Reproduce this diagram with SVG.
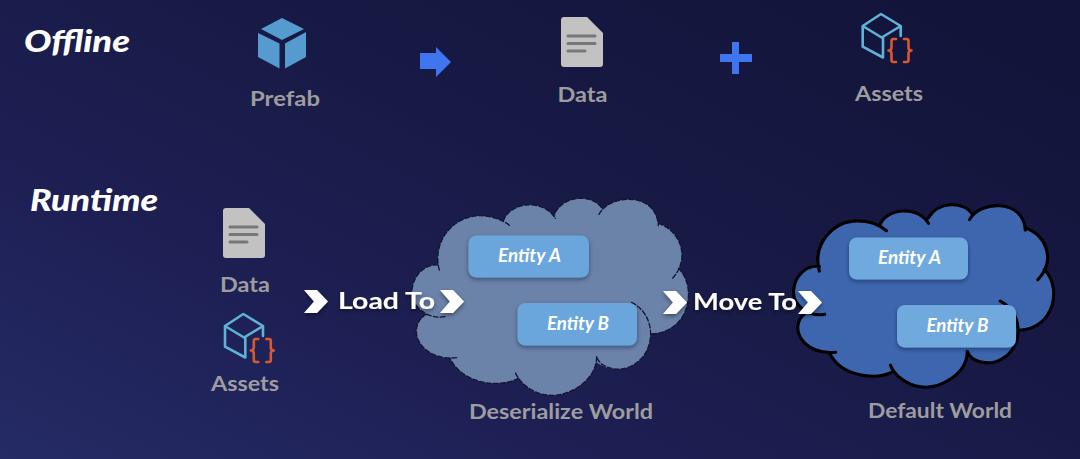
<svg xmlns="http://www.w3.org/2000/svg" width="1080" height="459" viewBox="0 0 1080 459">
<style>
text{font-family:"Lato","Open Sans","Liberation Sans",sans-serif;font-weight:700}
.h{fill:#fff;font-size:30px;font-style:italic;font-weight:900}
.l{fill:#9d9d9f;font-size:21px;text-anchor:middle}
.a{fill:#fff;font-size:22.5px;filter:url(#ts)}
.e{fill:#fff;font-size:18px;font-style:italic;text-anchor:middle}
.box{fill:#6aa6dc;filter:url(#bs)}
.chev{fill:#fff;filter:url(#ts)}
.ln{fill:none;stroke-linecap:round;stroke-linejoin:round}
</style>
<defs>
<linearGradient id="bg" x1="0" y1="1" x2="1" y2="0.15">
<stop offset="0" stop-color="#252b66"/><stop offset="0.3" stop-color="#1e2055"/><stop offset="0.6" stop-color="#181a46"/><stop offset="1" stop-color="#13143a"/>
</linearGradient>
<filter id="ts" x="-20%" y="-30%" width="140%" height="170%"><feDropShadow dx="0" dy="2" stdDeviation="2" flood-color="#000" flood-opacity=".45"/></filter>
<filter id="bs" x="-10%" y="-20%" width="120%" height="150%"><feDropShadow dx="0" dy="2" stdDeviation="2" flood-color="#0b1738" flood-opacity=".45"/></filter>
<path id="cf" d="M118,255C95,170 160,92 240,92C275,92 310,105 332,124L450,330Z M310,108C330,50 430,40 466,100L450,330Z M466,82C495,30 580,25 607,72L450,330Z M597,88C630,25 770,20 775,122L450,330Z M775,115C840,135 875,220 815,283L450,330Z M835,250C890,300 875,440 755,447L450,330Z M695,352C770,390 770,500 700,540C660,565 600,550 578,520L450,330Z M590,515C590,590 500,640 440,630C395,625 355,590 345,560L450,330Z M355,580C300,610 190,600 150,520L450,330Z M170,518C70,530 15,440 72,392L450,330Z M135,395C85,405 30,365 36,315C40,270 75,235 118,240L450,330Z"/>
<path id="cl" d="M118,255C95,170 160,92 240,92C275,92 310,105 332,124 M310,108C330,50 430,40 466,100 M466,82C495,30 580,25 607,72 M597,88C630,25 770,20 775,122 M775,115C840,135 875,220 815,283 M835,250C890,300 875,440 755,447 M695,352C770,390 770,500 700,540C660,565 600,550 590,515 M590,515C590,590 500,640 440,630C395,625 355,590 345,560 M355,580C300,610 190,600 150,520 M170,518C70,530 15,440 72,392 M135,395C85,405 30,365 36,315C40,270 75,235 118,240" fill="none" stroke-linecap="round"/>
<g id="doc">
<path d="M564,17H587L603,33V64Q603,67 600,67H564Q561,67 561,64V20Q561,17 564,17Z" fill="#c2c2c2"/>
<path d="M568,36H595M568,43.5H595M568,51H585" stroke="#777" stroke-width="3" stroke-linecap="round" fill="none"/>
</g>
<g id="asset">
<path class="ln" d="M881,14L900.7,26L881.7,37.5L862.7,26ZM862.7,26V46.7L883,57.5V37.5M900.7,26V36" stroke="#5fb2d6" stroke-width="2.6"/>
<path class="ln" d="M896,39H893.5Q891.5,39 891.5,41V47.5Q891.5,50.5 888.5,50.5Q891.5,50.5 891.5,53.5V60Q891.5,62 893.5,62H896M904,39H906.5Q908.5,39 908.5,41V47.5Q908.5,50.5 911.5,50.5Q908.5,50.5 908.5,53.5V60Q908.5,62 906.5,62H904" stroke="#d8592f" stroke-width="2.6"/>
</g>
<path id="chev" d="M0,0H13L24,11.5L13,23H0L10,11.5Z"/>
</defs>
<rect width="1080" height="459" fill="url(#bg)"/>

<text class="h" x="24" y="52" textLength="106" lengthAdjust="spacingAndGlyphs">Offline</text>
<text class="h" x="30" y="211" textLength="128" lengthAdjust="spacingAndGlyphs">Runtime</text>

<g id="prefab">
<path d="M282,18L304,29L282,40L261,29Z M258,33L279.5,43.5V68.5L258,57Z M285,43.5L306,32V57L285,68.5Z" fill="#559bd0"/>
<text class="l" x="285" y="106" textLength="70" lengthAdjust="spacingAndGlyphs">Prefab</text>
</g>
<g id="offline-data">
<use href="#doc"/>
<text class="l" x="582.5" y="102" textLength="50" lengthAdjust="spacingAndGlyphs">Data</text>
</g>
<g id="offline-assets">
<use href="#asset"/>
<text class="l" x="889" y="101" textLength="68" lengthAdjust="spacingAndGlyphs">Assets</text>
</g>
<g id="runtime-data">
<use href="#doc" x="-338" y="191"/>
<text class="l" x="245" y="292" textLength="50" lengthAdjust="spacingAndGlyphs">Data</text>
</g>
<g id="runtime-assets">
<use href="#asset" x="-637.7" y="300"/>
<text class="l" x="245" y="391" textLength="68" lengthAdjust="spacingAndGlyphs">Assets</text>
</g>

<g id="deserialize-world">
<g transform="translate(400,185) scale(.3333)">
<use href="#cf" fill="#6b82a9"/>
<use href="#cl" stroke="#14152f" stroke-width="4" stroke-dasharray="14 7"/>
</g>
<rect class="box" x="468.5" y="235.5" width="120.5" height="42" rx="8"/>
<text class="e" x="529.5" y="262" textLength="63" lengthAdjust="spacingAndGlyphs">Entity A</text>
<rect class="box" x="517.5" y="303" width="119.5" height="42.5" rx="8"/>
<text class="e" x="578" y="329.5" textLength="62" lengthAdjust="spacingAndGlyphs">Entity B</text>
<text class="l" x="561" y="419" textLength="184" lengthAdjust="spacingAndGlyphs">Deserialize World</text>
</g>
<g id="default-world">
<g transform="translate(782.4,192.5) scale(.3134,.3083)">
<use href="#cf" fill="#3d66ae"/>
<use href="#cl" stroke="#000" stroke-width="10"/>
</g>
<rect class="box" x="849" y="237.5" width="119" height="42" rx="8" style="fill:#6fa9de"/>
<text class="e" x="909.5" y="264" textLength="63" lengthAdjust="spacingAndGlyphs">Entity A</text>
<rect class="box" x="897" y="305" width="119" height="42.5" rx="8" style="fill:#6fa9de"/>
<text class="e" x="957.5" y="331.5" textLength="62" lengthAdjust="spacingAndGlyphs">Entity B</text>
<text class="l" x="940" y="418" textLength="144" lengthAdjust="spacingAndGlyphs">Default World</text>
</g>

<g id="connectors">
<path d="M420,53H436V47L451,62L436,77V69H420Z" fill="#3f76f0"/>
<path d="M720,54H732V42H739V54H752V62H739V74H732V62H720Z" fill="#3f76f0"/>
<use class="chev" href="#chev" x="304" y="290"/>
<text class="a" x="338" y="309" textLength="97" lengthAdjust="spacingAndGlyphs">Load To</text>
<use class="chev" href="#chev" x="440" y="290"/>
<use class="chev" href="#chev" x="663" y="291"/>
<text class="a" x="693" y="310" textLength="104" lengthAdjust="spacingAndGlyphs">Move To</text>
<use class="chev" href="#chev" x="798" y="291"/>
</g>
</svg>
